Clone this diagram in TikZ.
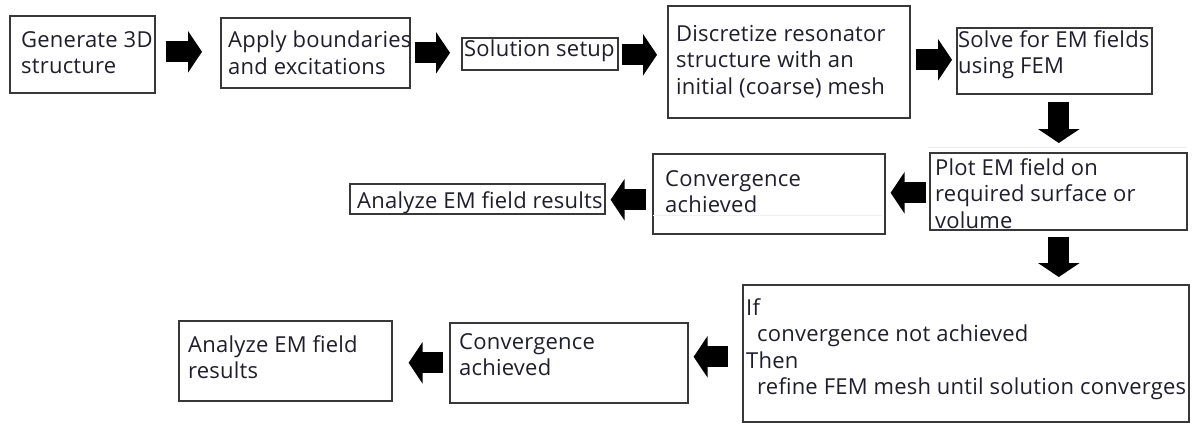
\documentclass[tikz,border=0pt]{standalone}
\usepackage{fontspec}
\setmainfont[LetterSpace=1]{Open Sans}
\usetikzlibrary{arrows.meta,calc}
\definecolor{boxline}{HTML}{383838}
\definecolor{txt}{HTML}{1E1E2C}
\begin{document}
\begin{tikzpicture}[x=1pt,y=-1pt,
  box/.style={draw=boxline,line width=1.6pt,rectangle,inner sep=0pt,anchor=north west},
  lbl/.style={anchor=north west,inner sep=0pt,align=left,text=txt,
    font=\fontsize{22}{26.5}\selectfont},
  blk/.style={line width=21pt,black,-{Triangle[length=14pt,width=41pt]}}]
\useasboundingbox (0,0) rectangle (1193,423);
% boxes
\node[box,minimum width=145pt,minimum height=77pt] (b1) at (9,15) {};
\node[box,minimum width=189pt,minimum height=70pt] (b2) at (220,17) {};
\node[box,minimum width=156pt,minimum height=32pt] (b3) at (461,37) {};
\node[box,minimum width=242pt,minimum height=112pt] (b4) at (667,5) {};
\node[box,minimum width=195pt,minimum height=66pt] (b5) at (956,27) {};
\node[box,minimum width=257pt,minimum height=77pt] (b6) at (929,152) {};
\node[box,minimum width=232pt,minimum height=80pt] (b7) at (652,153) {};
\node[box,minimum width=255pt,minimum height=30pt] (b8) at (349,183) {};
\node[box,minimum width=446pt,minimum height=137pt] (b9) at (742,284) {};
\node[box,minimum width=238pt,minimum height=80pt] (b10) at (449,322) {};
\node[box,minimum width=213pt,minimum height=80pt] (b11) at (178,320) {};
% faint artefact lines
\draw[gray!12,line width=0.8pt] (653,215) -- (882,215);
\draw[gray!15,line width=0.8pt] (928,147) -- (1187,147);
% texts
\node[lbl] (t1) at (21,31) {Generate 3D\\structure};
\node[lbl] (t2) at (228,31) {Apply boundaries\\and excitations};
\node[lbl] (t3) at (464,40) {Solution setup};
\node[lbl] (t4) at (676,25) {Discretize resonator\\structure with an\\initial (coarse) mesh};
\node[lbl] (t5) at (958,30) {Solve for EM fields\\using FEM};
\node[lbl] (t6) at (935,158) {Plot EM field on\\required surface or\\volume};
\node[lbl] (t7) at (665,170) {Convergence\\achieved};
\node[lbl] (t8) at (357,191) {Analyze EM field results};
\node[lbl] (t9) at (746,298) {If\\\hspace*{11pt}convergence not achieved\\Then\\\hspace*{11pt}refine FEM mesh until solution converges};
\node[lbl] (t10) at (459,333) {Convergence\\achieved};
\node[lbl] (t11) at (188,335) {Analyze EM field\\results};
% block arrows
\draw[blk] ([shift={(10,-2.5)}]b1.east) -- ([shift={(-18,-1)}]b2.west);
\draw[blk] ([shift={(4,0)}]b2.east) -- ([shift={(-11,-1)}]b3.west);
\draw[blk] ([shift={(3,1)}]b3.east) -- ([shift={(-10,-7)}]b4.west);
\draw[blk] ([shift={(5,-2)}]b4.east) -- ([shift={(-4,-1)}]b5.west);
\draw[blk] ([shift={(4.5,7)}]b5.south) -- ([shift={(0.5,-9)}]b6.north);
\draw[blk] ([shift={(-3,1.5)}]b6.west) -- ([shift={(5,-1)}]b7.east);
\draw[blk] ([shift={(-6,6)}]b7.west) -- ([shift={(5,1)}]b8.east);
\draw[blk] ([shift={(0.5,6)}]b6.south) -- ([shift={(0.5,-7)}]b6.south |- b9.north);
\draw[blk] ([shift={(-14,3.5)}]b9.west) -- ([shift={(5,-6)}]b10.east);
\draw[blk] ([shift={(-6,0)}]b10.west) -- ([shift={(16,2)}]b11.east);
\end{tikzpicture}
\end{document}
